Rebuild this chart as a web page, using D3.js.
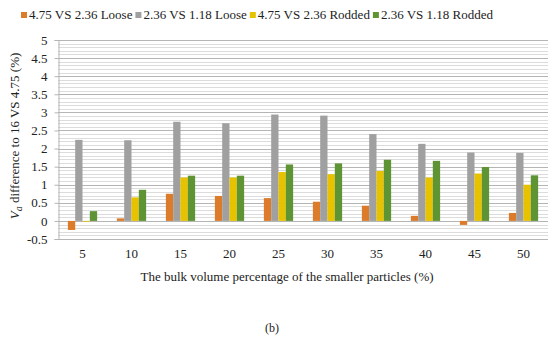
<!DOCTYPE html>
<html><head><meta charset="utf-8">
<script src="https://cdn.jsdelivr.net/npm/d3@7"></script>
<style>body{margin:0;background:#fff;} svg{display:block;} text{font-family:"Liberation Serif","Times New Roman",serif;fill:#222;}</style>
</head><body>
<svg id="c" width="550" height="338"></svg>
<script>
const categories = ["5","10","15","20","25","30","35","40","45","50"];
const seriesNames = ["4.75 VS 2.36 Loose","2.36 VS 1.18 Loose","4.75 VS 2.36 Rodded","2.36 VS 1.18 Rodded"];
const loose475 = [-0.25,0.07,0.75,0.69,0.63,0.53,0.42,0.14,-0.11,0.22];
const loose236 = [2.24,2.23,2.74,2.70,2.94,2.91,2.40,2.13,1.89,1.88];
const rodded475 = [-0.02,0.65,1.20,1.20,1.35,1.29,1.38,1.20,1.31,1.00];
const rodded236 = [0.27,0.86,1.25,1.25,1.56,1.59,1.69,1.66,1.49,1.26];
const yTicks = [-0.5,0,0.5,1,1.5,2,2.5,3,3.5,4,4.5,5];
const colors = ["#DC7C2A","#A0A0A0","#E6C200","#5F9434"];
const series = [loose475, loose236, rodded475, rodded236];

const svg = d3.select("#c");
const L = 58, R = 548, T = 40, B = 239;
const FS = "13px";
const y = d3.scaleLinear().domain([-0.5,5]).range([B,T]);
const x = d3.scaleBand().domain(categories).range([L,R]);
const xs = d3.scaleBand().domain(d3.range(4)).range([0, x.bandwidth()]).paddingInner(0).paddingOuter(1.35);

// minor gridlines
const minor = d3.range(-5,51).map(d=>d/10);
svg.append("g").selectAll("line").data(minor).join("line")
  .attr("x1",L).attr("x2",R)
  .attr("y1",d=>Math.round(y(d))+0.5).attr("y2",d=>Math.round(y(d))+0.5)
  .attr("stroke",d=> Math.abs(d*2-Math.round(d*2))<1e-6 ? "#b5b5b5" : "#dcdcdc")
  .attr("stroke-width",1);

// y axis
const ya = d3.axisLeft(y).tickValues(yTicks).tickSize(4).tickPadding(7).tickFormat(d=>String(d));
const yg = svg.append("g").attr("transform",`translate(${L}.5,0)`).call(ya);
yg.select(".domain").attr("stroke","#b5b5b5");
yg.selectAll(".tick line").attr("stroke","#b5b5b5");
yg.selectAll("text").style("font-size",FS).attr("fill","#222");

// bars
series.forEach((vals,si)=>{
  svg.append("g").selectAll("rect").data(vals).join("rect")
    .attr("x",(d,i)=>x(categories[i])+xs(si))
    .attr("width",xs.bandwidth())
    .attr("y",d=>y(Math.max(0,d)))
    .attr("height",d=>Math.abs(y(d)-y(0)))
    .attr("fill",colors[si]);
});

// x axis labels
const xa = d3.axisBottom(x).tickSize(0).tickPadding(10);
const xg = svg.append("g").attr("transform",`translate(0,${B})`).call(xa);
xg.select(".domain").remove();
xg.selectAll("text").style("font-size",FS).attr("fill","#222");

// axis titles
svg.append("text").attr("x",287).attr("y",281).attr("text-anchor","middle")
  .style("font-size",FS).text("The bulk volume percentage of the smaller particles (%)");
const yt = svg.append("text").attr("transform",`translate(19,136) rotate(-90)`).attr("text-anchor","middle").style("font-size",FS);
yt.append("tspan").attr("font-style","italic").text("V");
yt.append("tspan").attr("font-style","italic").attr("dy",3).style("font-size","10px").text("a");
yt.append("tspan").attr("dy",-3).text(" difference to 16 VS 4.75 (%)");

svg.append("text").attr("x",272).attr("y",332).attr("text-anchor","middle").style("font-size","12px").text("(b)");

// legend
const lg = svg.append("g");
let lx = 21;
seriesNames.forEach((n,i)=>{
  lg.append("rect").attr("x",lx).attr("y",12).attr("width",6).attr("height",6).attr("fill",colors[i]);
  const t = lg.append("text").attr("x",lx+8).attr("y",18.5).style("font-size",FS).text(n);
  lx += 8 + t.node().getComputedTextLength() + 3;
});
</script>
</body></html>
